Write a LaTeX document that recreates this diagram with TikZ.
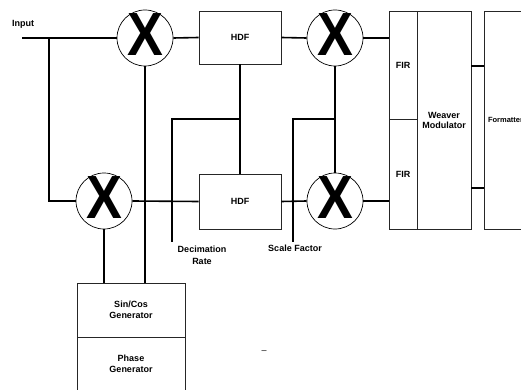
\documentclass[tikz,border=0pt]{standalone}
\usepackage{fontspec}
\usepackage{graphicx}
\setmainfont{Liberation Sans}
\begin{document}
\begin{tikzpicture}[x=1pt,y=-1pt,
  box/.style={draw=black!85, line width=0.8pt, rectangle, inner sep=0pt,
    font=\bfseries\fontsize{9}{11.5}\selectfont, align=center},
  mixer/.style={draw, circle, minimum size=56pt, inner sep=0pt, line width=0.7pt},
  xmark/.style={inner sep=0pt, font=\bfseries\fontsize{61}{61}\selectfont, yshift=3pt},
  wire/.style={line width=1.6pt},
  lbl/.style={inner sep=0pt, font=\bfseries\fontsize{9}{11.5}\selectfont, align=center}]
\useasboundingbox (0,0) rectangle (521,390);
\clip (0,0) rectangle (521,390);
% boxes
\node[box, minimum width=82pt, minimum height=53pt] (hdf1) at (240,37.5) {HDF};
\node[box, minimum width=82pt, minimum height=55pt] (hdf2) at (240,201.5) {HDF};
\node[box, minimum width=28pt, minimum height=108pt] (fir1) at (403,65) {FIR};
\node[box, minimum width=28pt, minimum height=110pt] (fir2) at (403,174) {FIR};
\node[box, minimum width=54pt, minimum height=218pt, font=\bfseries\fontsize{9}{10}\selectfont] (weaver) at (444,120) {Weaver\\Modulator};
\node[box, minimum width=43pt, minimum height=218pt, font=\bfseries\fontsize{7.5}{9}\selectfont] (fmt) at (505.5,120) {Formatter};
\node[box, minimum width=108pt, minimum height=54pt] (sincos) at (131,310) {Sin/Cos\\Generator};
\node[box, minimum width=108pt, minimum height=54pt] (phase) at (131,364) {Phase\\Generator};
% mixers
\node[mixer] (m1) at (145,38) {};
\node[mixer] (m2) at (104,201) {};
\node[mixer] (m3) at (335,38) {};
\node[mixer] (m4) at (335,201) {};
\foreach \m in {m1,m2,m3,m4} {\node[xmark] at (\m) {\scalebox{0.88}[1]{X}};}
% labels
\node[lbl] (inlbl) at (23,24) {Input};
\node[lbl] (declbl) at (202,255.5) {Decimation\\Rate};
\node[lbl] (sflbl) at (295,248) {Scale Factor};
\node[lbl, font=\fontsize{9}{11}\selectfont] (dash) at (264,352) {–};
% coordinates
\coordinate (inp) at (22,38);
\coordinate (j1) at (49,38);
\coordinate (dj) at (240,119);
\coordinate (dend) at (172,242);
\coordinate (sj) at (335,119);
\coordinate (send) at (293,242);
% wires
\draw[wire] (inp) -- (m1.west);
\draw[wire] (j1) |- (m2.west);
\draw[wire] (m1.east) -- (hdf1.west);
\draw[wire] (hdf1.east) -- (m3.west);
\draw[wire] (m3.east) -- (m3.east -| fir1.west);
\draw[wire] (m2.east) -- (hdf2.west);
\draw[wire] (hdf2.east) -- (m4.west);
\draw[wire] (m4.east) -- (m4.east -| fir2.west);
\draw[wire] (hdf1.south) -- (hdf2.north);
\draw[wire] (m3.south) -- (m4.north);
\draw[wire] (dj) -| (dend);
\draw[wire] (sj) -| (send);
\draw[wire] (m1.south) -- (m1.south |- sincos.north);
\draw[wire] (m2.south) -- (m2.south |- sincos.north);
\draw[wire] (weaver.east |- 0,66) -- (fmt.west |- 0,66);
\draw[wire] (weaver.east |- 0,188) -- (fmt.west |- 0,188);
\end{tikzpicture}
\end{document}
